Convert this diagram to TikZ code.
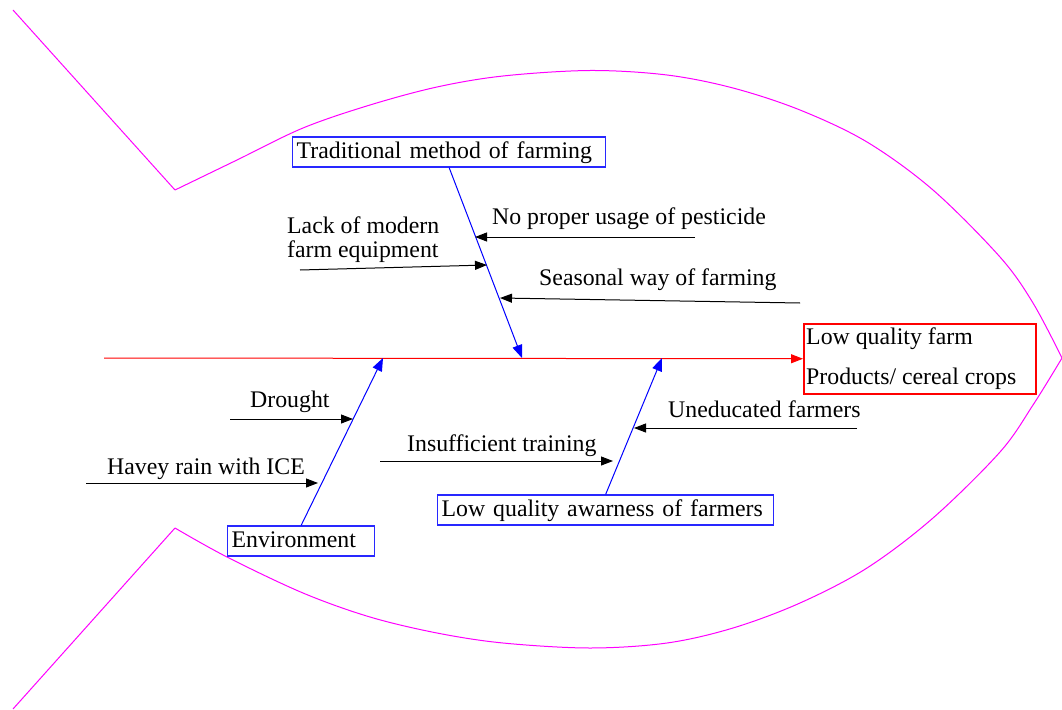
\documentclass[tikz,border=0pt]{standalone}
\usepackage{fontspec}
\setmainfont{Liberation Serif}
\usetikzlibrary{arrows.meta}
\newcommand\fishfont{\fontsize{23.8}{23.5}\selectfont}
\definecolor{fishpink}{RGB}{255,0,255}
\definecolor{catblue}{RGB}{40,40,255}
\begin{document}
\begin{tikzpicture}[x=1pt,y=-1pt,
  outline/.style={draw=fishpink, line width=1pt, line join=round},
  bone/.style={draw=blue, line width=1pt, -{Triangle[length=13pt,width=10pt]}},
  sub/.style={draw=black, line width=1pt, -{Triangle[length=12pt,width=9pt]}},
  spine/.style={draw=red, line width=1pt, -{Triangle[length=12pt,width=9pt]}},
  catbox/.style={draw=catblue, line width=1.3pt, inner xsep=4pt, inner ysep=0pt,
    text height=21pt, text depth=9pt, align=left, anchor=base west, font=\fishfont},
  effbox/.style={draw=red, line width=1.5pt, minimum width=232pt, minimum height=70pt,
    inner sep=0pt, anchor=north west},
  lbl/.style={inner sep=0pt, anchor=base west, font=\fishfont, align=left}]
\useasboundingbox (0,0) rectangle (1062,709);

% fish outline: tail and body
\draw[outline] (13,10) -- (175,190);
\draw[outline] (13,709) -- (175,528);
\draw[outline] plot[smooth, tension=0.55] coordinates {
  (175,190) (237,160) (303,128) (370,105) (437,87) (503,76) (590,70.5)
  (667,75) (733,88) (800,110) (867,142) (933,190) (1000,257) (1033,303) (1062,358)};
\draw[outline] plot[smooth, tension=0.55] coordinates {
  (175,528) (227,557) (303,593) (370,617) (437,633) (503,643) (590,648)
  (667,643) (733,628) (800,603) (867,568) (933,518) (1000,452) (1033,405) (1062,358)};

% effect (head)
\node[effbox] (effect) at (803,323) {};
\node[lbl] (eff1) at (806,344) {Low quality farm};
\node[lbl] (eff2) at (806,384) {Products/ cereal crops};

% spine
\coordinate (spinetail) at (104,358);
\draw[spine] (spinetail) -- (effect.west);

% categories
\node[catbox, text width=305pt] (trad) at (292,158) {Traditional method of farming};
\node[catbox, text width=139pt] (env) at (227,547) {Environment};
\node[catbox, text width=328pt] (aware) at (437,516) {Low quality awarness of farmers};

\coordinate (j1) at (522,358);
\coordinate (j2) at (383,358);
\coordinate (j3) at (662,358);
\draw[bone] (trad.south) -- (j1);
\draw[bone] (env.north) -- (j2);
\draw[bone] (aware.north) -- (j3);

% sub-causes
\node[lbl] (pest) at (492,224) {No proper usage of pesticide};
\node[lbl] (equip) at (287,257) {Lack of modern\\farm equipment};
\node[lbl] (season) at (539,285) {Seasonal way of farming};
\node[lbl] (drought) at (250,407) {Drought};
\node[lbl] (rain) at (107,474) {Havey rain with ICE};
\node[lbl] (train) at (407,451) {Insufficient training};
\node[lbl] (unedu) at (668,417) {Uneducated farmers};

\coordinate (p1s) at (695,237); \coordinate (p1e) at (475,237);
\coordinate (p2s) at (300,270); \coordinate (p2e) at (487,265);
\coordinate (p3s) at (800,303); \coordinate (p3e) at (500,298);
\coordinate (p4s) at (230,419); \coordinate (p4e) at (353,419);
\coordinate (p5s) at (86,483);  \coordinate (p5e) at (318,483);
\coordinate (p6s) at (380,461); \coordinate (p6e) at (613,461);
\coordinate (p7s) at (857,428); \coordinate (p7e) at (634,428);

\draw[sub] (p1s) -- (p1e);
\draw[sub] (p2s) -- (p2e);
\draw[sub] (p3s) -- (p3e);
\draw[sub] (p4s) -- (p4e);
\draw[sub] (p5s) -- (p5e);
\draw[sub] (p6s) -- (p6e);
\draw[sub] (p7s) -- (p7e);
\end{tikzpicture}
\end{document}
